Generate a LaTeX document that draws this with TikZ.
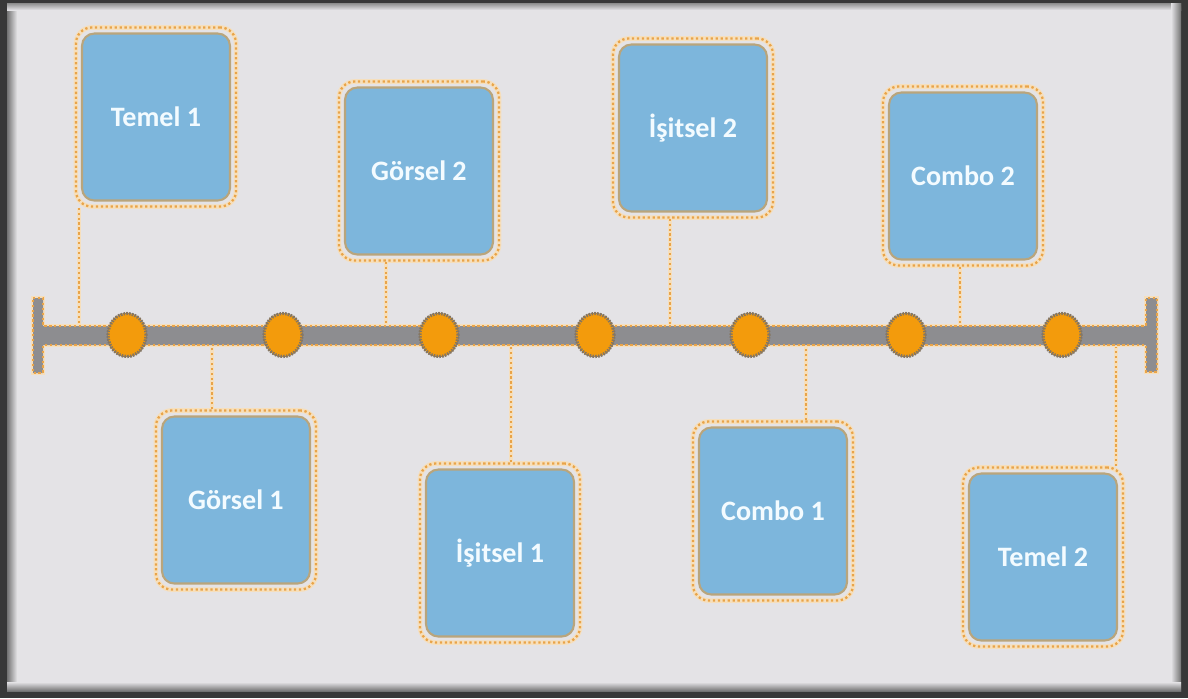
\documentclass[tikz,border=0pt]{standalone}
\usepackage{fontspec}
\setmainfont{Carlito}
\usetikzlibrary{positioning, fit, shapes.geometric}

\definecolor{paper}{HTML}{E4E3E6}
\definecolor{cardblue}{HTML}{7DB6DC}
\definecolor{cardedge}{HTML}{B9A57C}
\definecolor{dotorange}{HTML}{E9A449}
\definecolor{halo}{HTML}{F6DFBC}
\definecolor{bargray}{HTML}{8D8D90}
\definecolor{bulborange}{HTML}{F39B0C}
\definecolor{bulbring}{HTML}{857662}
\definecolor{cardtext}{HTML}{F3FBFF}

\begin{document}
\begin{tikzpicture}[x=0.02cm, y=-0.02cm,
    card/.style={rectangle, rounded corners=7pt, fill=cardblue, draw=cardedge, line width=1.2pt, minimum width=2.96cm, minimum height=3.34cm, text=cardtext, font=\bfseries\fontsize{16}{19}\selectfont},
    frame/.style={rectangle, rounded corners=9pt, inner sep=0.1cm, draw=dotorange, line width=1.3pt, dash pattern=on 1.3pt off 1.5pt, preaction={draw=halo, line width=2.6pt, solid}},
    link/.style={draw=dotorange, line width=1.3pt, dash pattern=on 1.3pt off 1.5pt, preaction={draw=halo, line width=2.4pt, solid}},
    track/.style={fill=bargray, draw=dotorange, line width=1.3pt, dash pattern=on 1.3pt off 1.5pt, preaction={draw=halo, line width=2.6pt, solid}},
    bulb/.style={ellipse, fill=bulborange, draw=bulbring, line width=1.8pt, dash pattern=on 0.9pt off 0.7pt, minimum width=0.76cm, minimum height=0.86cm, inner sep=0pt, preaction={draw=bulbring, line width=0.8pt, solid}},
    ]

   % Background with dark shadowed frame.
   \useasboundingbox (0,0) rectangle (1188,698);
   \fill[black!78] (0,0) rectangle (1188,698);
   \fill[paper] (7,3) rectangle (1181,691);
   \shade[left color=black!55, right color=paper] (7,3) rectangle (17,691);
   \shade[top color=black!45, bottom color=paper] (7,3) rectangle (1181,10);
   \shade[left color=paper, right color=black!55] (1171,3) rectangle (1181,691);
   \shade[top color=paper, bottom color=black!55] (7,682) rectangle (1181,691);

   % Cards.
   \node[card] (temel1) at (156,117) {Temel 1};
   \node[card] (gorsel1) at (236,500) {Görsel 1};
   \node[card] (gorsel2) at (419,171) {Görsel 2};
   \node[card] (isitsel1) at (500,553) {İşitsel 1};
   \node[card] (isitsel2) at (693,128) {İşitsel 2};
   \node[card] (combo1) at (773,511) {Combo 1};
   \node[card] (combo2) at (963,176) {Combo 2};
   \node[card] (temel2) at (1043,557) {Temel 2};

   \foreach \c in {temel1, gorsel1, gorsel2, isitsel1, isitsel2, combo1, combo2, temel2}
      \node[frame, fit=(\c)] (\c-f) {};

   % Where the links meet the track.
   \coordinate (t1) at (79,330);
   \coordinate (b1) at (212,341);
   \coordinate (t2) at (386,330);
   \coordinate (b2) at (511,341);
   \coordinate (t3) at (670,330);
   \coordinate (b3) at (806,341);
   \coordinate (t4) at (960,330);
   \coordinate (b4) at (1116,341);

   \draw[link] (temel1-f.south -| t1) -- (t1);
   \draw[link] (gorsel2-f.south -| t2) -- (t2);
   \draw[link] (isitsel2-f.south -| t3) -- (t3);
   \draw[link] (combo2-f.south -| t4) -- (t4);
   \draw[link] (gorsel1-f.north -| b1) -- (b1);
   \draw[link] (isitsel1-f.north -| b2) -- (b2);
   \draw[link] (combo1-f.north -| b3) -- (b3);
   \draw[link] (temel2-f.north -| b4) -- (b4);

   % Time line.
   \path[track] (33,298) -- (43,298) -- (43,326) -- (1146,326) -- (1146,298) -- (1157,298)
      -- (1157,372) -- (1146,372) -- (1146,345) -- (43,345) -- (43,373) -- (33,373) -- cycle;

   \foreach \x [count=\i] in {127, 283, 439, 595, 750, 906, 1062}
      \node[bulb] (m\i) at (\x,335) {};

\end{tikzpicture}
\end{document}
